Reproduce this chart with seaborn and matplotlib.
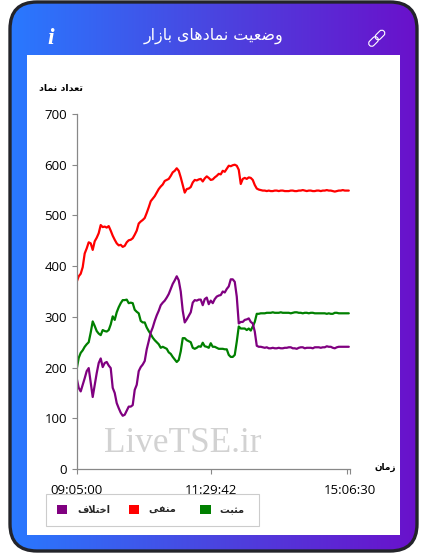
# Market symbols status card: positive / negative / difference counts over the day
import matplotlib
matplotlib.use('Agg')
import numpy as np
import pandas as pd
import matplotlib.pyplot as plt
import seaborn as sns
from matplotlib.patches import FancyBboxPatch, Patch, Rectangle
from matplotlib.transforms import Affine2D

# Values, one sample per 2 pixels along the time axis
positive = [197, 219, 229, 234, 241, 246, 250, 269, 291, 282, 272, 267, 264, 274, 272, 271, 274, 285, 301, 294,
            309, 319, 327, 333, 333, 334, 327, 328, 327, 314, 310, 307, 292, 289, 289, 279, 272, 266, 259, 254,
            250, 246, 239, 241, 239, 237, 230, 227, 221, 216, 211, 215, 232, 258, 258, 254, 252, 250, 239, 237,
            239, 242, 241, 249, 242, 241, 239, 248, 241, 241, 239, 237, 237, 237, 236, 236, 225, 221, 221, 225,
            251, 281, 277, 277, 277, 274, 277, 273, 281, 290, 306, 306, 307, 307, 307, 308, 308, 308, 309, 308,
            308, 308, 309, 308, 308, 308, 308, 307, 308, 309, 309, 308, 308, 307, 308, 308, 307, 308, 308, 307,
            307, 307, 307, 307, 307, 306, 307, 306, 306, 308, 308, 307, 307, 307, 307, 307, 307]
negative = [369, 380, 385, 398, 425, 435, 447, 445, 432, 449, 456, 465, 481, 477, 478, 476, 479, 470, 460, 452,
            445, 441, 442, 438, 440, 447, 451, 452, 455, 462, 470, 484, 488, 491, 495, 505, 516, 528, 533, 538,
            545, 552, 557, 561, 568, 570, 572, 578, 585, 588, 593, 588, 575, 560, 545, 552, 553, 556, 565, 570,
            569, 571, 572, 567, 573, 577, 574, 570, 571, 575, 578, 582, 581, 588, 586, 592, 598, 597, 599, 600,
            598, 590, 562, 572, 574, 572, 575, 574, 570, 560, 553, 551, 550, 549, 549, 548, 549, 548, 548, 549,
            549, 548, 549, 549, 548, 548, 548, 549, 549, 548, 548, 549, 549, 550, 549, 548, 549, 549, 548, 548,
            549, 549, 548, 549, 549, 550, 549, 549, 548, 547, 548, 549, 549, 550, 549, 549, 549]
difference = [179, 160, 153, 166, 179, 193, 199, 170, 142, 166, 189, 209, 218, 201, 209, 211, 204, 199, 160, 150,
              130, 120, 111, 105, 107, 115, 123, 123, 126, 156, 166, 193, 201, 206, 213, 236, 252, 269, 279, 292,
              303, 312, 323, 328, 332, 338, 345, 355, 365, 372, 380, 372, 350, 312, 289, 295, 302, 309, 328, 333,
              332, 334, 334, 323, 335, 338, 325, 332, 327, 335, 340, 342, 343, 350, 348, 355, 360, 374, 374, 369,
              340, 287, 290, 290, 294, 295, 297, 290, 287, 271, 243, 241, 241, 240, 239, 240, 238, 238, 239, 238,
              238, 239, 238, 238, 239, 239, 240, 240, 238, 238, 237, 239, 240, 240, 238, 239, 239, 239, 238, 240,
              240, 240, 239, 240, 240, 242, 241, 241, 239, 238, 240, 241, 241, 241, 241, 241, 241]

y_ticks = [0, 100, 200, 300, 400, 500, 600, 700]
x_tick_pos = [0, 67.3, 136.6]
x_tick_labels = ['09:05:00', '11:29:42', '15:06:30']

# Persian text as shaped glyphs in visual order, matplotlib does not shape Arabic script
def rtl(s):
    return s[::-1]

title_fa = rtl('\ufeed\ufebf\ufecc\ufbff\ufe96 \ufee7\ufee4\ufe8e\ufea9\ufeeb\ufe8e\ufbfc \ufe91\ufe8e\ufeaf\ufe8d\ufead')
ylabel_fa = rtl('\ufe97\ufecc\ufeaa\ufe8d\ufea9 \ufee7\ufee4\ufe8e\ufea9')
xlabel_fa = rtl('\ufeaf\ufee3\ufe8e\ufee5')
name_pos = rtl('\ufee3\ufe9c\ufe92\ufe96')
name_neg = rtl('\ufee3\ufee8\ufed4\ufbfd')
name_diff = rtl('\ufe8d\ufea7\ufe98\ufefc\ufed1')

df = pd.DataFrame({'sample': np.arange(len(positive)), name_pos: positive,
                   name_neg: negative, name_diff: difference})
long_df = df.melt(id_vars='sample', var_name='kind', value_name='count')
colors = {name_pos: 'green', name_neg: 'red', name_diff: 'purple'}

W, H = 427, 554
sns.set_theme(style='white')
plt.rcParams['font.family'] = ['Open Sans', 'DejaVu Sans']

fig = plt.figure(figsize=(W / 100, H / 100), dpi=100, facecolor='white')

# full figure axes in pixel coordinates for the card behind the chart
bg = fig.add_axes([0, 0, 1, 1])
bg.set_xlim(0, W)
bg.set_ylim(H, 0)
bg.axis('off')
gradient = np.linspace(0, 1, 256).reshape(1, -1)
cmap = matplotlib.colors.LinearSegmentedColormap.from_list('card', ['#2979ff', '#4a45e0', '#6a11cb'])
im = bg.imshow(gradient, extent=[10, 417, 551, 2], cmap=cmap, aspect='auto', zorder=1)
card = FancyBboxPatch((10, 2), 407, 549, boxstyle='round,pad=0,rounding_size=27',
                      facecolor='none', edgecolor='#23242a', linewidth=2.4, zorder=3)
bg.add_patch(card)
im.set_clip_path(card)
bg.add_patch(Rectangle((27, 55), 373, 480, facecolor='white', edgecolor='none', zorder=2))

bg.text(214, 36, title_fa, color='white', fontsize=11.4, ha='center', va='center',
        family='DejaVu Sans', zorder=4)
bg.text(51, 38, 'i', color='white', fontsize=17, ha='center', va='center', style='italic',
        weight='bold', family='Liberation Serif', zorder=4)
# link icon: two rotated rounded links
for cx, cy in [(373.5, 41.5), (380, 35)]:
    link = FancyBboxPatch((cx - 3, cy - 5.5), 6, 11, boxstyle='round,pad=0,rounding_size=3',
                          facecolor='none', edgecolor='white', linewidth=0.8, zorder=4,
                          transform=Affine2D().rotate_deg_around(cx, cy, 45) + bg.transData)
    bg.add_patch(link)

ax = fig.add_axes([76.7 / W, 1 - 469 / H, (350 - 76.7) / W, (469 - 114) / H], zorder=5)
ax.patch.set_alpha(0)

ax.text(0.10, 0.072, 'LiveTSE.ir', transform=ax.transAxes, color='#d2d2d2', fontsize=25.4,
        family='Liberation Serif', ha='left', va='center', zorder=0)

sns.lineplot(data=long_df, x='sample', y='count', hue='kind', palette=colors, linewidth=1.6,
             legend=False, ax=ax, estimator=None, errorbar=None)

ax.set_xlim(0, 136.6)
ax.set_ylim(0, 700)
ax.set_xticks(x_tick_pos + [135])
ax.set_xticklabels(x_tick_labels + [''])
ax.set_yticks(y_ticks)
ax.set_xlabel('')
ax.set_ylabel('')
ax.tick_params(axis='both', which='major', bottom=True, left=True, length=3.6, width=0.8,
               color='#888888', labelsize=9.5, labelcolor='black')
ax.tick_params(axis='x', pad=7)
ax.tick_params(axis='y', pad=3.5)
sns.despine(ax=ax)
for side in ['left', 'bottom']:
    ax.spines[side].set_color('#888888')
    ax.spines[side].set_linewidth(0.9)

bg.text(61, 88, ylabel_fa, color='black', fontsize=6.8, weight='bold', ha='center', va='center',
        family='DejaVu Sans', zorder=6)
bg.text(385, 467, xlabel_fa, color='black', fontsize=6.4, weight='bold', ha='center', va='center',
        family='DejaVu Sans', zorder=6)

# legend: swatch then name, difference first, padded so the swatches sit evenly
legend_names = [(name_diff, name_diff), (name_neg, name_neg + '  '), (name_pos, name_pos + ' ')]
handles = [Patch(facecolor=colors[n], edgecolor='none', label=label) for n, label in legend_names]
leg = fig.legend(handles=handles, ncol=3, loc='lower left',
                 bbox_to_anchor=(46 / W, 1 - 526 / H), bbox_transform=fig.transFigure,
                 frameon=True, fancybox=False, edgecolor='#cccccc', framealpha=1,
                 handlelength=1.05, handleheight=1.05, handletextpad=1.0, columnspacing=1.9,
                 borderaxespad=0, borderpad=1.15,
                 prop={'family': 'DejaVu Sans', 'weight': 'bold', 'size': 7.0})
leg.get_frame().set_linewidth(0.8)

fig.savefig('out.png', dpi=100)
